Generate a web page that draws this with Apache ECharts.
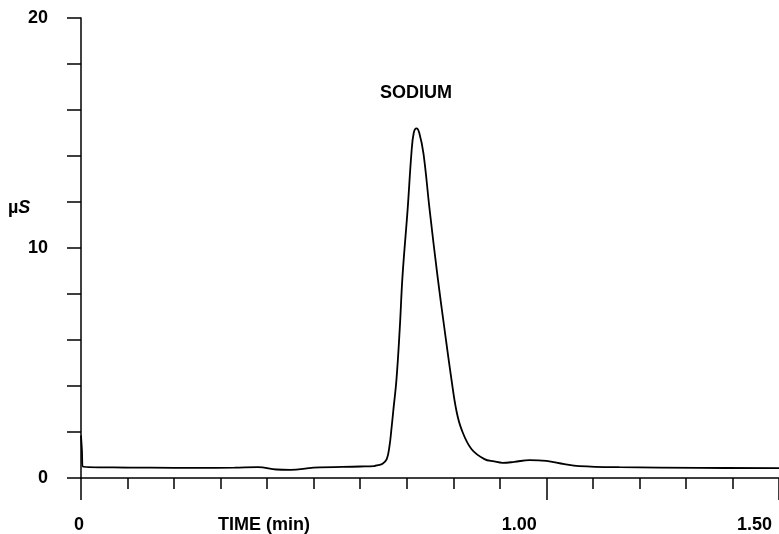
<!DOCTYPE html>
<html>
<head>
<meta charset="utf-8">
<title>Sodium</title>
<script src="https://cdn.jsdelivr.net/npm/echarts@6/dist/echarts.min.js"></script>
<style>
  html, body { margin: 0; padding: 0; background: #fff; }
  #chart { width: 779px; height: 534px; }
</style>
</head>
<body>
<div id="chart"></div>
<script>
  // 时间 (min)
  var times = [0, 0.002, 0.004, 0.07, 0.15, 0.25, 0.33, 0.38, 0.42, 0.45, 0.5, 0.6, 0.63, 0.638,
    0.648, 0.657, 0.663, 0.667, 0.671, 0.678, 0.685, 0.691, 0.702, 0.71, 0.715, 0.721, 0.727,
    0.736, 0.749, 0.766, 0.781, 0.796, 0.807, 0.818, 0.839, 0.867, 0.888, 0.906, 0.931,
    0.964, 1.0, 1.039, 1.071, 1.157, 1.328, 1.5];
  // 电导 (µS)
  var conductance = [1.85, 1.2, 0.5, 0.46, 0.45, 0.44, 0.45, 0.47, 0.37, 0.35, 0.45, 0.5, 0.52, 0.56,
    0.62, 0.82, 1.4, 2.1, 2.9, 4.3, 6.5, 8.8, 11.7, 14.1, 15.0, 15.2, 15.0,
    14.1, 11.7, 8.8, 6.5, 4.3, 2.9, 2.1, 1.26, 0.82, 0.72, 0.66, 0.7,
    0.78, 0.74, 0.6, 0.52, 0.47, 0.44, 0.43];
  var yLabels = [0, 10, 20];
  var xLabels = { 0: '{a|0}', 100: '{b|1.00}', 150: '{c|1.50}' };

  var font = '"Liberation Sans", Arial, sans-serif';
  var black = '#000';

  var points = times.map(function (t, i) { return [t, conductance[i]]; });

  var myChart = echarts.init(document.getElementById('chart'));
  myChart.setOption({
    animation: false,
    backgroundColor: '#fff',
    grid: { left: 81, right: 0, top: 18, bottom: 55, containLabel: false },
    xAxis: [{
      type: 'value',
      min: 0,
      max: 1.5,
      interval: 0.1,
      axisLine: { lineStyle: { color: black, width: 1.5 } },
      axisTick: { length: 11, lineStyle: { color: black, width: 1.5 } },
      splitLine: { show: false },
      axisLabel: {
        margin: 38,
        color: black,
        fontFamily: font,
        fontWeight: 'bold',
        fontSize: 18,
        showMaxLabel: true,
        alignMaxLabel: 'right',
        rich: {
          a: { fontFamily: font, fontWeight: 'bold', fontSize: 18, color: black, padding: [0, 4, 0, 0] },
          b: { fontFamily: font, fontWeight: 'bold', fontSize: 18, color: black, padding: [0, 54, 0, 0] },
          c: { fontFamily: font, fontWeight: 'bold', fontSize: 18, color: black, padding: [0, 7, 0, 0] }
        },
        formatter: function (v) {
          var k = Math.round(v * 100);
          return xLabels[k] !== undefined ? xLabels[k] : '';
        }
      }
    }, {
      // 长刻度 0 和 1.00
      type: 'value',
      position: 'bottom',
      offset: 0,
      min: 0,
      max: 1.5,
      interval: 1,
      axisLine: { show: false },
      axisTick: { length: 22, lineStyle: { color: black, width: 1.5 } },
      axisLabel: { show: false },
      splitLine: { show: false }
    }],
    yAxis: {
      type: 'value',
      min: 0,
      max: 20,
      interval: 2,
      axisLine: { show: true, lineStyle: { color: black, width: 1.5 } },
      axisTick: { show: true, length: 14, lineStyle: { color: black, width: 1.5 } },
      splitLine: { show: false },
      axisLabel: {
        margin: 33,
        color: black,
        fontFamily: font,
        fontWeight: 'bold',
        fontSize: 18,
        formatter: function (v) {
          return yLabels.indexOf(Math.round(v)) !== -1 ? String(Math.round(v)) : '';
        }
      }
    },
    graphic: [
      { type: 'text', left: 380, top: 84, style: { text: 'SODIUM', fill: black, font: 'bold 18px ' + font } },
      {
        type: 'text', left: 8, top: 199,
        style: {
          text: '{m|µ}{s|S}',
          rich: {
            m: { fill: black, fontFamily: font, fontWeight: 'bold', fontSize: 18 },
            s: { fill: black, fontFamily: font, fontWeight: 'bold', fontStyle: 'italic', fontSize: 18 }
          }
        }
      },
      { type: 'text', left: 218, top: 516, style: { text: 'TIME (min)', fill: black, font: 'bold 18px ' + font } }
    ],
    series: [{
      type: 'line',
      xAxisIndex: 0,
      data: points,
      showSymbol: false,
      smooth: 0.4,
      lineStyle: { color: black, width: 1.8 }
    }]
  });
</script>
</body>
</html>
